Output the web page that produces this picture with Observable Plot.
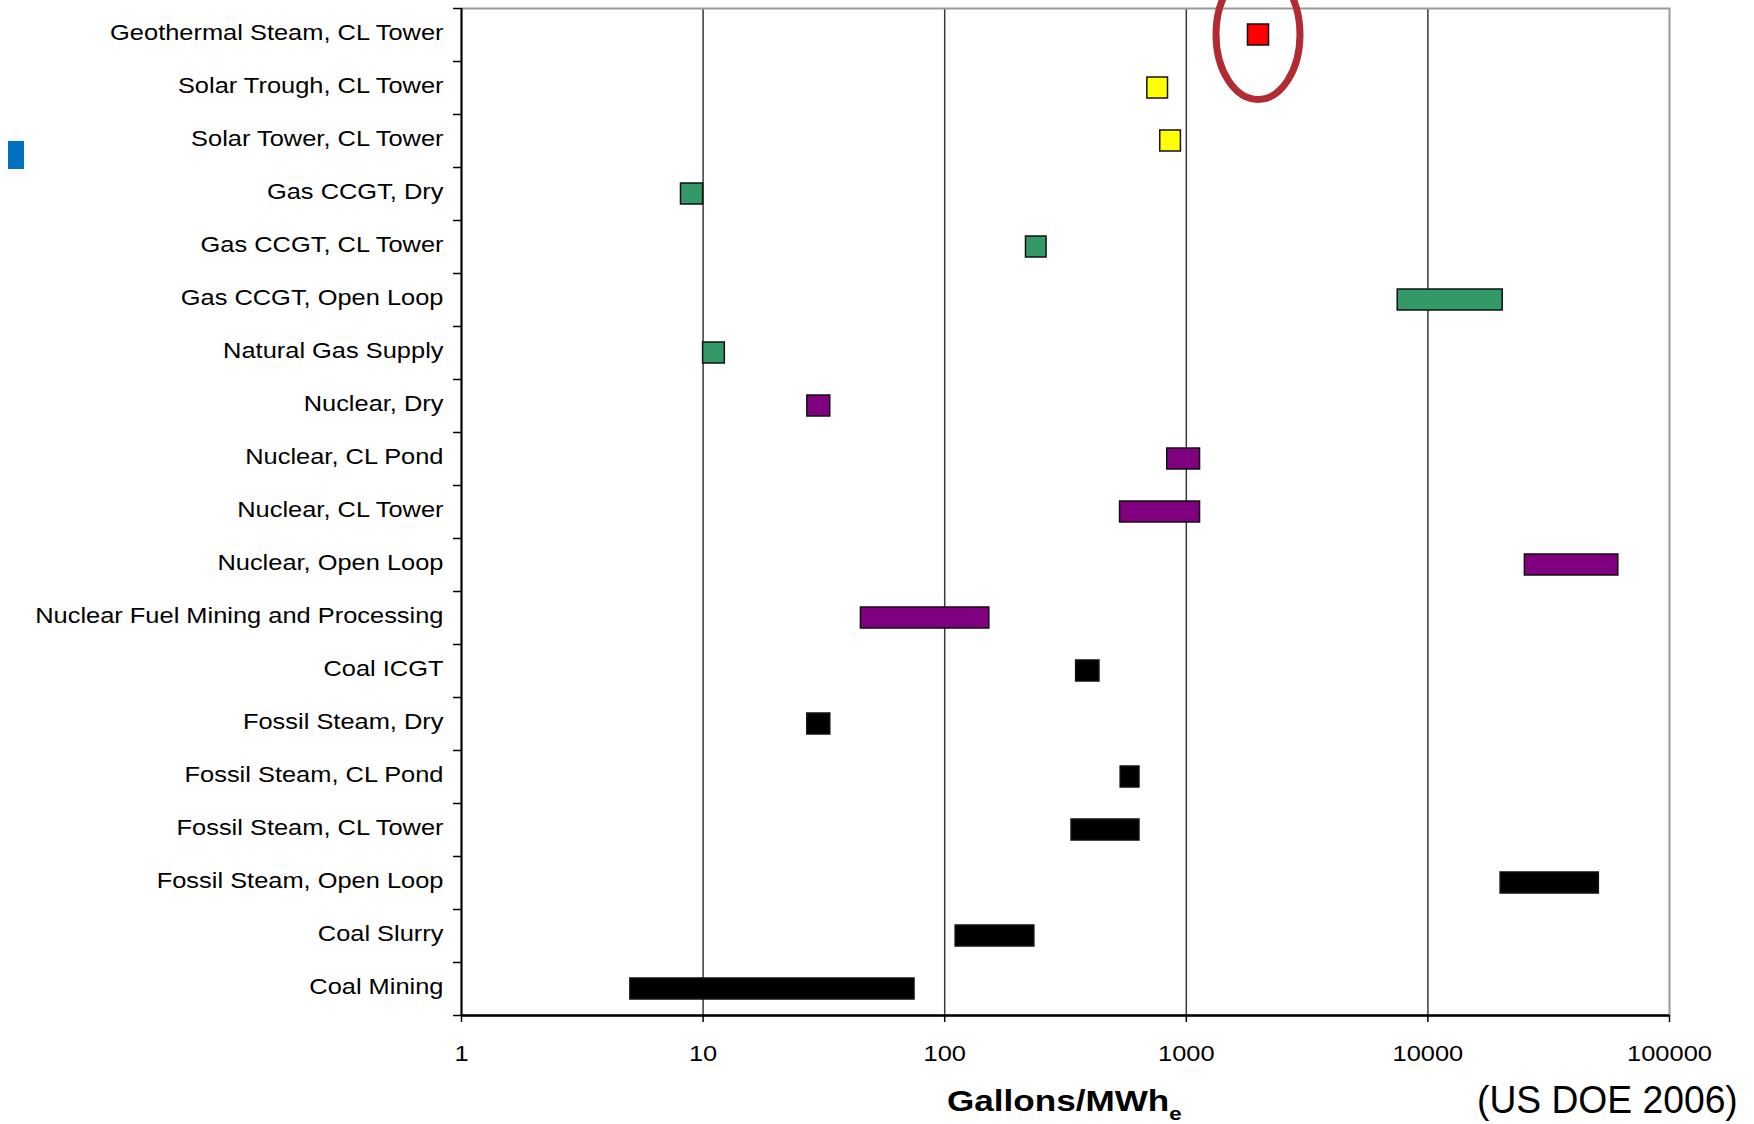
<!DOCTYPE html>
<html><head><meta charset="utf-8">
<script src="https://cdn.jsdelivr.net/npm/d3@7"></script>
<script src="https://cdn.jsdelivr.net/npm/@observablehq/plot@0.6"></script>
<style>
body{margin:0;background:#fff;}
#wrap{position:relative;width:1754px;height:1124px;overflow:hidden;font-family:"Liberation Sans",Arial,sans-serif;color:#000;}
#wrap svg{display:block;}
.xt{position:absolute;left:947px;top:1086px;font-weight:bold;font-size:30px;line-height:30px;white-space:nowrap;transform:scaleX(1.17);transform-origin:0 0;}
.xt span{font-size:19px;position:relative;top:9px;}
.src{position:absolute;left:1477px;top:1081px;font-size:38px;line-height:38px;white-space:nowrap;transform:scaleX(0.98);transform-origin:0 0;}
.blue{position:absolute;left:8px;top:141px;width:16px;height:28px;background:#0070c0;}
</style></head>
<body><div id="wrap"><div class="blue"></div><div class="xt">Gallons/MWh<span>e</span></div><div class="src">(US DOE 2006)</div></div>
<script>
const categories = [
  "Geothermal Steam, CL Tower",
  "Solar Trough, CL Tower",
  "Solar Tower, CL Tower",
  "Gas CCGT, Dry",
  "Gas CCGT, CL Tower",
  "Gas CCGT, Open Loop",
  "Natural Gas Supply",
  "Nuclear, Dry",
  "Nuclear, CL Pond",
  "Nuclear, CL Tower",
  "Nuclear, Open Loop",
  "Nuclear Fuel Mining and Processing",
  "Coal ICGT",
  "Fossil Steam, Dry",
  "Fossil Steam, CL Pond",
  "Fossil Steam, CL Tower",
  "Fossil Steam, Open Loop",
  "Coal Slurry",
  "Coal Mining"
];
const lows  = [1800, 690, 780, 8.1, 217, 7500, 10, 27, 834, 532, 25200, 45, 350, 27, 535, 335, 20000, 111, 5];
const highs = [2200, 840, 950, 10, 264, 20400, 12.3, 33.6, 1140, 1140, 61400, 153, 437, 33.6, 640, 640, 51000, 235, 75];
const colors = ["#ff0000", "#ffff00", "#ffff00", "#339966", "#339966", "#339966", "#339966",
  "#800080", "#800080", "#800080", "#800080", "#800080",
  "#000000", "#000000", "#000000", "#000000", "#000000", "#000000", "#000000"];
const xTicks = [1, 10, 100, 1000, 10000, 100000];
const gridValues = [10, 100, 1000, 10000];
const highlighted = 0;

const rows = categories.map((c, i) => ({cat: c, i, lo: lows[i], hi: highs[i], color: colors[i]}));

function highlightMark(index, scales) {
  const cx = scales.x(Math.sqrt(lows[highlighted] * highs[highlighted]));
  const cy = scales.y(highlighted + 0.5);
  const el = document.createElementNS("http://www.w3.org/2000/svg", "ellipse");
  el.setAttribute("cx", cx);
  el.setAttribute("cy", cy);
  el.setAttribute("rx", 42);
  el.setAttribute("ry", 65);
  el.setAttribute("fill", "none");
  el.setAttribute("stroke", "#b22a32");
  el.setAttribute("stroke-width", 7);
  return el;
}

const plot = Plot.plot({
  width: 1754, height: 1072,
  marginTop: 8, marginBottom: 57, marginLeft: 461, marginRight: 85,
  style: {fontFamily: '"Liberation Sans", Arial, sans-serif', fontSize: "22.5px", color: "#000", background: "#fff"},
  x: {type: "log", domain: [1, 100000], label: null},
  y: {domain: [0, categories.length], reverse: true, label: null},
  color: {type: "identity"},
  marks: [
    Plot.ruleX(gridValues, {stroke: "#3a3a3a", strokeWidth: 1.5}),
    Plot.frame({stroke: "#9a9a9a", strokeWidth: 2}),
    Plot.rect(rows, {x1: "lo", x2: "hi", y1: "i", y2: d => d.i + 1, insetTop: 16, insetBottom: 16, fill: "color", stroke: "#111", strokeWidth: 1.5}),
    Plot.ruleX([1], {stroke: "#000", strokeWidth: 2}),
    Plot.ruleY([categories.length], {stroke: "#000", strokeWidth: 2.5}),
    Plot.axisY(d3.range(categories.length + 1), {anchor: "left", tickSize: 8, tickFormat: () => "", strokeWidth: 1.5, label: null}),
    Plot.axisY(rows.map(d => d.i + 0.5), {anchor: "left", tickSize: 0, tickPadding: 18, dy: -2, tickFormat: v => categories[Math.floor(v)], label: null}),
    Plot.axisX(xTicks, {anchor: "bottom", tickSize: 7, tickPadding: 23, tickFormat: d => String(d), strokeWidth: 1.5, label: null}),
    highlightMark
  ]
});

d3.select(plot).selectAll("text").each(function() {
  const t = this.getAttribute("transform") || "";
  const x = +this.getAttribute("x") || 0;
  const y = +this.getAttribute("y") || 0;
  this.setAttribute("transform", `${t} translate(${x},${y}) scale(1.13,1) translate(${-x},${-y})`);
});

document.getElementById("wrap").prepend(plot);
</script>
</body></html>
